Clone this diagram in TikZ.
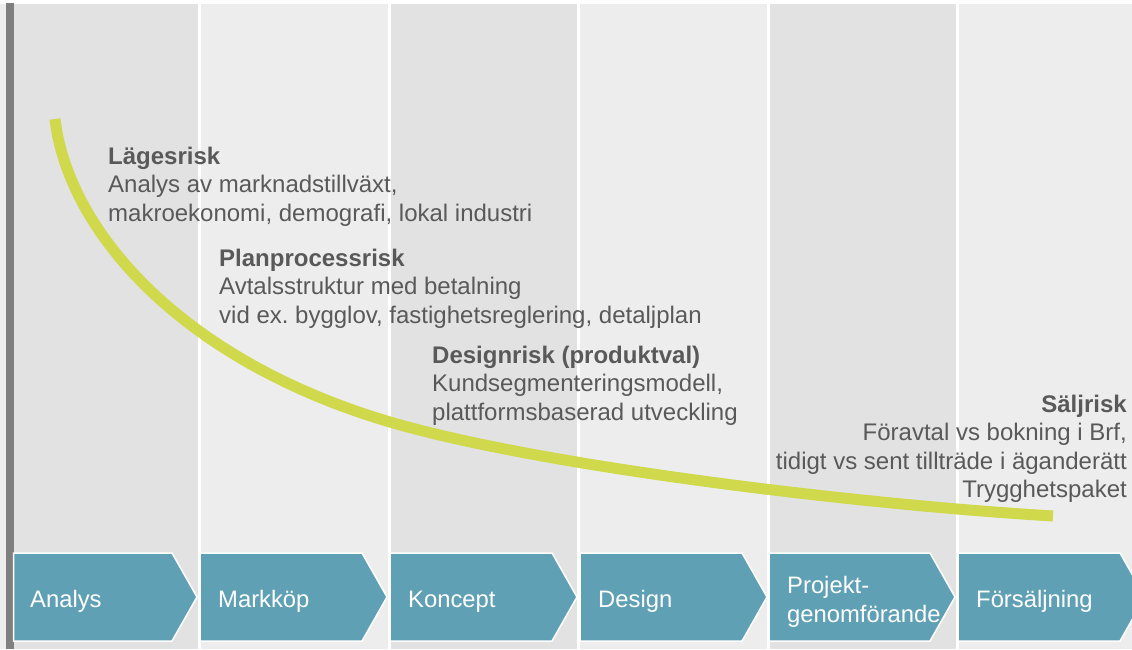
\documentclass[tikz,border=0pt]{standalone}
\usepackage{fontspec}
\setmainfont{Liberation Sans}
\frenchspacing
\definecolor{coldark}{HTML}{E2E2E2}
\definecolor{collight}{HTML}{EDEDED}
\definecolor{barcol}{HTML}{7F7F7F}
\definecolor{chevcol}{HTML}{5FA0B4}
\definecolor{curvecol}{HTML}{D0D84C}
\definecolor{txtcol}{HTML}{595959}
\begin{document}
\begin{tikzpicture}[x=1pt,y=-1pt,
  darkcol/.style={fill=coldark},
  lightcol/.style={fill=collight},
  chevron/.style={fill=chevcol,draw=white,line width=1.5pt,line join=miter},
  chevlabel/.style={inner sep=0pt,text=white,font=\fontsize{23.8}{29}\selectfont},
  risktext/.style={inner sep=0pt,text=txtcol,font=\fontsize{24}{28.5}\selectfont},
  riskcurve/.style={draw=curvecol,line width=11pt}]
\useasboundingbox (0,0) rectangle (1132,649);
\clip (0,0) rectangle (1132,649);
\fill[white] (0,0) rectangle (1132,649);
% left strip and bar
\fill[collight] (0,3.5) rectangle (6,649);
\fill[barcol] (6,3) rectangle (13.5,649);
% columns
\path[darkcol]  (13.5,3.5) rectangle (198,649);
\path[lightcol] (201,3.5) rectangle (388,649);
\path[darkcol]  (391,3.5) rectangle (577,649);
\path[lightcol] (580,3.5) rectangle (767,649);
\path[darkcol]  (770,3.5) rectangle (956,649);
\path[lightcol] (959,3.5) rectangle (1132,649);
% chevrons
\path[chevron] (13.5,553) -- (172,553) -- (197,597) -- (172,641) -- (13.5,641) -- cycle;
\path[chevron] (200,553) -- (362,553) -- (387,597) -- (362,641) -- (200,641) -- cycle;
\path[chevron] (390,553) -- (552,553) -- (577,597) -- (552,641) -- (390,641) -- cycle;
\path[chevron] (580,553) -- (742,553) -- (767,597) -- (742,641) -- (580,641) -- cycle;
\path[chevron] (769,553) -- (930,553) -- (955,597) -- (930,641) -- (769,641) -- cycle;
\path[chevron] (958,553) -- (1120,553) -- (1145,597) -- (1120,641) -- (958,641) -- cycle;
% chevron labels
\node[chevlabel,anchor=base west] (analys) at (30,607) {Analys};
\node[chevlabel,anchor=base west] (markkop) at (218,607) {Markköp};
\node[chevlabel,anchor=base west] (koncept) at (408,607) {Koncept};
\node[chevlabel,anchor=base west] (design) at (598,607) {Design};
\node[chevlabel,anchor=north west,align=left] (projekt) at (787,573) {\rule{0pt}{20pt}Projekt-\\genomförande};
\node[chevlabel,anchor=base west] (forsaljning) at (976,607) {Försäljning};
% curve
\coordinate (cstart) at (55,119);
\coordinate (cmid) at (390,422);
\coordinate (cend) at (1053,516);
\draw[riskcurve] (cstart) .. controls (68,230) and (180,360) .. (cmid)
                          .. controls (540,466) and (853,504) .. (cend);
% risk texts
\node[risktext,anchor=north west,align=left] (lagesrisk) at (108,144)
  {\rule{0pt}{20pt}\textbf{Lägesrisk}\\Analys av marknadstillväxt,\\makroekonomi, demografi, lokal industri};
\node[risktext,anchor=north west,align=left] (planrisk) at (219,246)
  {\rule{0pt}{20pt}\textbf{Planprocessrisk}\\Avtalsstruktur med betalning\\vid ex. bygglov, fastighetsreglering, detaljplan};
\node[risktext,anchor=north west,align=left] (designrisk) at (432,343)
  {\rule{0pt}{20pt}\textbf{Designrisk (produktval)}\\Kundsegmenteringsmodell,\\plattformsbaserad utveckling};
\node[risktext,anchor=north east,align=right] (saljrisk) at (1127,392)
  {\rule{0pt}{20pt}\textbf{Säljrisk}\\Föravtal vs bokning i Brf,\hspace*{0.28em}\\tidigt vs sent tillträde i äganderätt\\Trygghetspaket};
\end{tikzpicture}
\end{document}
